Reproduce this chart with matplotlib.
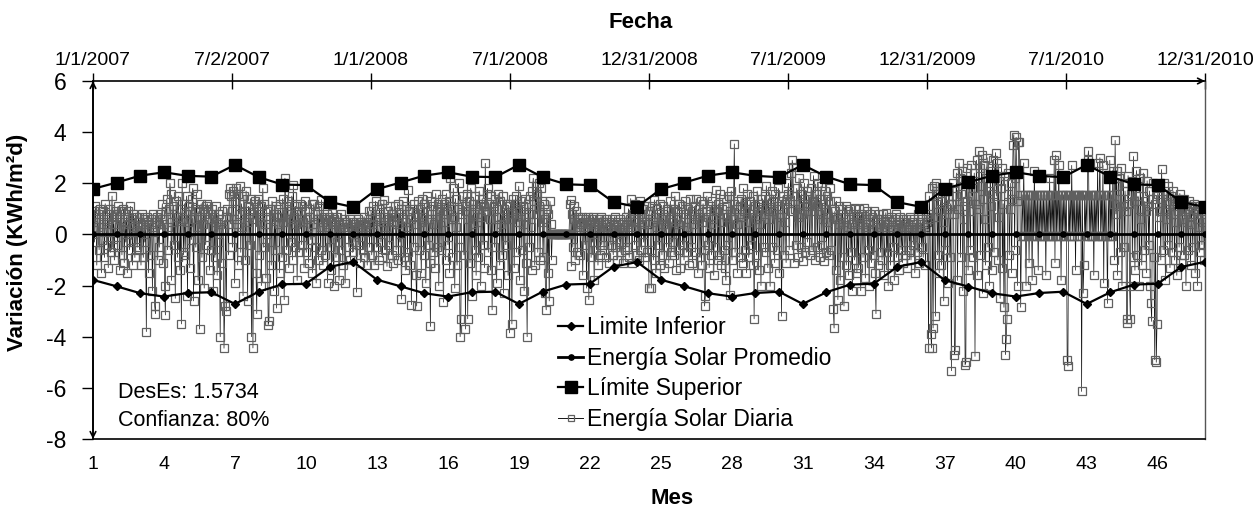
import numpy as np
import matplotlib
matplotlib.use("Agg")
import matplotlib.pyplot as plt
from matplotlib.lines import Line2D

plt.rcParams['font.family'] = ['Liberation Sans', 'DejaVu Sans']
plt.rcParams['axes.unicode_minus'] = False

# ---------------- data ----------------
months = list(range(1, 49))
limite_superior = [1.78, 2.03, 2.30, 2.43, 2.29, 2.26, 2.72, 2.24, 1.95, 1.93, 1.27, 1.07,
                   1.77, 2.03, 2.30, 2.43, 2.26, 2.24, 2.72, 2.24, 1.96, 1.93, 1.26, 1.08,
                   1.77, 2.03, 2.30, 2.43, 2.29, 2.24, 2.72, 2.26, 1.96, 1.93, 1.26, 1.08,
                   1.79, 2.04, 2.30, 2.43, 2.29, 2.24, 2.72, 2.26, 1.96, 1.93, 1.27, 1.07]
limite_inferior = [-1.78, -2.03, -2.30, -2.43, -2.29, -2.26, -2.72, -2.24, -1.95, -1.93, -1.27, -1.07,
                   -1.77, -2.03, -2.30, -2.43, -2.26, -2.24, -2.72, -2.24, -1.96, -1.93, -1.26, -1.08,
                   -1.77, -2.03, -2.30, -2.43, -2.29, -2.24, -2.72, -2.26, -1.96, -1.93, -1.26, -1.08,
                   -1.79, -2.04, -2.30, -2.43, -2.29, -2.24, -2.72, -2.26, -1.96, -1.93, -1.27, -1.07]
promedio = [0.0] * 48

top_tick_days = [0, 182.5, 365, 547.5, 730, 912.5, 1095, 1277.5, 1460]
top_tick_labels = ['1/1/2007', '7/2/2007', '1/1/2008', '7/1/2008', '12/31/2008',
                   '7/1/2009', '12/31/2009', '7/1/2010', '12/31/2010']
month_ticks = [1, 4, 7, 10, 13, 16, 19, 22, 25, 28, 31, 34, 37, 40, 43, 46]
y_ticks = [-8, -6, -4, -2, 0, 2, 4, 6]
year_start_day = [0, 365, 731, 1096]

daily_2007 = [
    0.7, 0.9, -0.3, 1.1, 0.5, -1.2, 0.8, 0.3, -0.6, 1.0, 0.6, -1.5, -0.2, 0.9, 0.4, -0.9, 1.2, 0.2, -0.4, 0.8, -1.3, 0.6, 1.0, -0.7, 0.1, 1.5, -0.5, 0.7, -1.0, 0.4, 0.9,
    0.8, -0.4, 1.1, 0.3, -1.4, 0.6, 0.9, -0.8, 0.2, 1.0, -1.1, 0.5, -0.3, 0.7, -1.5, 0.9, 0.4, -0.6, 1.1, -0.2, 0.6, -1.2, 0.8, 0.3, -0.9, 0.7, 0.1, -0.5,
    0.5, 0.7, -0.6, 0.3, -1.2, 0.8, 0.4, -0.9, 0.6, -0.3, 0.2, -3.8, 0.7, 0.5, -1.5, 0.4, -0.8, 0.6, 0.3, -2.2, 0.8, 0.1, -2.8, -3.1, 0.5, 0.7, -1.0, 0.4, -0.5, 0.8, 0.2,
    0.6, 1.2, -1.1, 0.4, -2.0, -3.15, 0.9, 1.4, -0.6, 0.3, 1.0, 2.0, 1.6, -1.8, 0.5, 1.1, -0.4, 0.8, -2.5, 1.3, 0.7, -0.9, 1.5, 0.2, -1.4, 1.0, -3.5, 2.0, 0.6, -0.8,
    1.2, -0.7, 0.8, 1.5, -2.4, 0.5, 1.1, -1.3, 0.9, -0.2, 1.4, 1.8, -2.6, 0.6, 1.0, -0.5, 1.6, 0.3, -1.8, 0.9, -3.7, 0.7, 1.2, -0.9, 0.4, 1.0, -2.1, 0.8, -0.4, 1.1, 1.2,
    0.9, 0.6, -1.4, 0.8, -0.6, 1.0, 0.3, -2.2, 0.7, -0.9, 0.5, 1.1, -1.6, 0.4, 0.8, -0.3, -4.0, 0.6, -1.1, 0.9, 0.2, -4.45, -2.8, 0.7, -3.0, 1.0, 0.4, -0.8, 1.6, 1.8,
    1.5, 0.9, -0.5, 1.7, 0.6, -1.9, 1.3, 1.8, 0.4, -1.2, 1.6, 0.8, 1.9, -0.7, 1.2, 0.3, -2.4, 1.5, 0.9, -1.0, 1.7, 0.5, -2.6, 1.1, 0.7, -0.4, 1.4, -4.0, 0.8, -4.44, 1.2,
    0.6, 1.3, -1.5, -3.1, 0.9, 1.4, -0.8, 0.5, 1.1, -2.0, 0.7, 1.8, -0.5, 1.2, 0.4, -1.7, 0.9, -0.3, -3.53, -3.4, 1.0, 0.6, -1.2, 1.3, 0.2, -2.2, 0.8, -0.6, 1.1, -2.88, 0.7,
    1.0, 0.4, -1.5, 1.2, 0.7, -0.9, 1.4, 0.5, -2.55, 2.2, 1.1, -0.6, 0.8, 1.3, -1.3, 0.6, 0.9, -0.3, 1.5, -1.0, 1.93, 0.7, -0.5, 1.1, 0.4, -1.8, 0.9, 0.2, -0.7, 1.2,
    0.8, -0.4, 1.1, 0.5, -1.3, 0.9, 1.3, -0.7, 0.6, 0.3, -1.1, 1.0, 0.7, -0.2, 1.2, -1.5, 0.4, 1.2, 0.8, -0.5, -1.9, 0.9, 0.6, -1.0, 1.1, 0.3, -0.6, 1.35, 0.5, -1.2, 0.7,
    0.6, -0.8, 0.4, 0.8, -1.9, 0.3, 0.7, -0.5, 0.5, -1.4, 0.85, 0.2, -2.0, 0.6, 0.4, -0.9, 0.7, -0.3, 0.5, -1.8, 0.3, 0.8, -0.6, 0.4, -1.2, 0.6, 0.2, -1.9, 0.5, 0.3,
    0.4, 0.2, -0.5, 0.6, -1.0, 0.3, 0.5, -0.7, 0.1, 0.4, -0.3, 0.5, -2.26, 0.2, 0.6, -0.4, 0.3, -1.1, 0.5, 0.2, -0.6, 0.4, 0.7, -0.9, 0.3, 0.1, -1.2, 0.5, 0.9, -0.5, 0.6,
]
daily_2008 = [
    0.9, -0.8, 1.1, 0.4, -1.2, 0.7, 1.3, -0.5, 0.6, 0.2, -1.0, 1.0, 0.8, -0.3, 1.2, -0.9, 0.5, 1.35, -0.6, 0.7, 0.3, -1.25, 0.9, 0.6, -0.4, 1.1, 0.2, -0.8, 0.8, -1.1, 0.5,
    0.7, 1.1, -0.6, 0.4, 1.2, -1.0, 0.8, -0.3, 1.0, -2.53, 0.6, 1.3, -0.9, 0.5, -1.4, 1.1, 0.3, -0.7, 1.74, 0.9, -1.2, 0.6, -2.75, 1.0, 0.4, -0.5, 1.2, 0.7, -1.6,
    -2.8, 0.8, 1.3, -0.6, 1.0, 0.5, -1.5, 1.4, 0.7, -0.8, 1.2, 0.3, -1.9, 0.9, 1.5, -0.4, 0.6, -1.1, -3.6, 1.3, 0.8, -0.7, 1.1, 0.4, -1.3, 1.6, 0.9, -0.5, 1.2, -2.0, 0.7,
    1.0, -0.6, 1.4, 0.8, -2.65, 1.2, 0.5, -1.0, 1.6, 0.9, -0.4, 1.3, -1.5, 2.2, 1.1, 0.6, -0.9, 1.8, 0.7, -2.1, 1.4, 0.3, -1.2, 1.0, 2.0, -0.5, -4.0, -3.3, 1.2, 0.8,
    1.5, -0.8, 1.1, -3.7, 0.9, 1.6, -3.3, 0.6, 1.3, -1.1, 1.8, 0.4, -2.4, 1.2, 0.8, -0.6, 1.5, -1.6, 1.0, 0.5, -0.9, 1.7, 1.2, -2.0, 0.7, 1.4, -0.4, 1.1, -1.3, 2.78, 0.9,
    1.6, 1.8, -0.7, 1.2, 0.6, -1.4, 1.5, -2.95, 0.9, 1.1, -0.5, 1.4, 0.3, -1.9, 1.0, 1.6, 0.7, -1.2, 1.3, 0.4, -0.8, 1.5, -2.3, 1.0, 0.6, -0.4, 1.2, 0.8, -1.6, 1.1,
    -3.85, 1.2, 0.6, -3.5, 1.4, 0.8, -1.3, 1.0, 1.5, -0.7, 1.2, 0.5, 1.88, -1.8, 0.9, 1.3, -0.6, 1.1, 0.4, -2.2, 1.4, 0.7, -1.1, -4.0, 1.2, 0.8, -0.5, 1.5, 0.3, -1.4, 1.7,
    2.2, 1.3, -1.2, 1.9, 0.8, 1.6, -0.7, 2.0, 1.1, -1.0, 1.8, 1.3, 0.5, -0.9, 1.2, 0.6, -2.3, -2.95, 1.0, -1.5, 0.8, -2.6, 1.29, 0.4, -1.0, 0.0, 0.0, 0.0, 0.0, 0.0, 0.0,
    0.0, 0.0, 0.0, 0.0, 0.0, 0.0, 0.0, 0.0, 0.0, 0.0, 0.0, 0.0, 0.0, 0.0, 0.0, 0.0, 0.0, 1.2, 1.35, -1.25, 0.8, -0.5, 1.1, 0.6, -1.0, 0.9, 0.3, -0.7, 0.7, 0.5,
    0.6, -0.8, 0.4, 0.7, -1.6, 0.3, 0.5, -0.4, 0.6, -2.1, 0.2, 0.7, -2.55, 0.4, 0.5, -0.9, 0.6, -0.3, 0.7, -1.8, 0.4, 0.2, -0.6, 0.5, -1.2, 0.6, 0.3, -0.8, 0.7, -0.4, 0.5,
    0.5, -0.6, 0.3, 0.6, -0.9, 0.4, 0.2, -1.1, 0.5, 0.3, -0.4, 0.6, 0.1, -0.8, 0.4, 0.7, -0.5, 0.3, -1.0, 0.5, 0.2, -0.3, 0.6, -0.7, 0.4, 0.1, -1.1, 0.5, 0.3, -0.6,
    0.7, -0.5, 0.4, 1.0, -0.9, 0.6, 1.4, 0.3, -1.1, 0.8, 0.5, -0.4, 1.2, 0.2, -0.8, 0.9, 0.6, -1.0, 1.3, 0.4, -0.6, 0.7, 1.0, -0.3, 0.5, -0.9, 1.1, 0.4, -0.7, 0.8, -2.1,
]
daily_2009 = [
    0.9, -0.6, -2.1, 1.1, 0.5, -1.0, 1.35, 0.7, -1.5, 0.3, 1.0, -0.4, 0.8, -1.2, 1.2, 0.6, -0.8, 0.4, 1.1, -1.3, 0.7, 0.2, -0.5, 1.0, 0.9, -1.1, 0.6, 1.3, -0.7, 0.5, -0.3,
    1.0, -0.8, 1.5, 0.6, -1.4, 0.9, 0.4, -0.6, 1.2, -1.3, 0.7, 1.1, -0.4, 0.5, -1.0, 1.3, 0.8, -0.7, 0.3, 1.0, -1.2, 0.6, 1.4, -0.5, 0.9, -1.1, 0.4, 0.8,
    1.1, -0.7, 1.4, 0.6, -1.5, 1.0, 0.8, -0.9, 1.3, -1.2, 0.5, 1.2, -0.6, -2.8, -2.4, 0.9, 1.5, -0.4, 0.7, -1.3, 1.1, 0.4, -0.8, 1.3, 0.6, -1.6, 1.0, -0.5, 1.74, 0.9, -1.0,
    1.2, -0.8, 1.6, 0.5, -1.2, 1.0, 1.4, -0.6, 0.8, -1.3, -1.8, 1.1, 0.7, -0.4, 1.5, -2.35, 0.9, 1.7, -1.0, 0.6, 1.2, 3.54, -0.7, 1.0, 0.4, -1.5, 1.3, 0.8, -0.9, 1.1,
    1.4, 0.7, -1.1, 1.8, 0.9, -0.6, 1.2, -1.5, 1.6, 0.5, -0.9, 1.0, 1.3, -0.4, 0.8, -1.2, 1.5, -3.3, 1.1, 0.6, -0.8, 1.7, 0.9, -1.4, 1.2, 0.4, -2.0, 1.0, 1.4, -0.5, 0.8,
    1.5, -0.7, 1.9, 1.0, -1.3, 1.4, 0.6, -2.03, 1.2, 1.7, -0.5, 0.9, 1.3, -1.1, 1.6, 0.8, -0.6, 1.1, 1.8, -1.5, 0.7, 1.3, -3.2, 1.0, 1.5, -0.8, 1.2, 0.5, -1.1, 1.4,
    1.6, 2.0, -0.6, 1.3, 2.4, 0.9, 2.9, 2.65, -1.1, 1.5, 1.0, -0.4, 1.8, 0.7, -0.9, 2.2, 1.2, -0.5, 1.6, 0.8, -1.05, 1.4, 2.0, -0.7, 1.1, 1.7, -0.3, 0.9, 1.5, -0.8, 1.2,
    1.8, -0.6, 1.3, 2.3, 0.9, -1.0, 1.6, 1.1, -0.5, 2.0, 0.8, -0.9, 1.4, 1.9, -0.4, 1.2, 0.6, -1.05, 1.7, 1.0, -0.7, 1.5, 0.5, -0.8, 1.3, 1.8, -0.6, 1.0, 0.7, -2.9, -3.66,
    0.9, -1.4, 1.3, 0.6, -2.55, 1.1, 0.4, -1.8, 0.8, -0.9, 1.0, 0.5, -2.8, 0.7, 1.1, -1.2, 0.3, 0.9, -1.6, 0.6, 1.0, -0.7, 0.4, -2.2, 0.8, 0.5, -1.0, 1.05, 0.6, -1.5,
    0.7, -1.3, 1.0, 0.4, -2.2, 0.8, 0.5, -0.9, 1.05, 0.3, -1.7, 0.6, 0.9, -0.6, 0.4, -2.0, 0.8, 0.2, -1.1, 0.7, 0.5, -0.8, 0.9, -1.5, -3.1, 0.6, 0.3, -1.2, 0.8, 0.4, -0.7,
    0.6, -1.0, 0.8, 0.3, -1.6, 0.5, 0.85, -0.7, 0.4, -2.0, 0.6, 0.2, -1.2, 0.7, 0.5, -0.5, 0.3, -1.8, 0.6, 0.8, -0.9, 0.4, 0.2, -1.4, 0.7, 0.5, -0.6, 0.3, -1.1, 0.6,
    0.5, -0.8, 0.3, 0.6, -1.3, 0.4, 0.2, -0.6, 0.7, -1.0, 0.3, 0.5, -0.4, 0.6, -1.5, 0.2, 0.4, -0.7, 0.8, 0.3, -1.1, 0.5, 0.1, -0.5, 0.6, -0.9, 0.4, 0.3, -1.2, 0.7, 0.5,
]
daily_2010 = [
    0.8, -4.44, 1.5, 0.6, -3.9, -4.44, 1.8, -3.66, 1.9, 0.7, -3.2, 2.0, 1.2, -0.8, 1.6, -1.5, 0.9, 1.3, -1.2, 1.8, 0.5, -2.6, 1.4, -0.6, 1.7, 1.0, -1.9, 1.5, 0.8, -0.9, 1.2,
    -5.33, 1.2, 2.0, 0.8, -4.7, -4.5, 1.5, 2.4, -1.8, 1.0, 2.8, 2.2, -0.9, 1.6, 2.5, -2.2, 1.1, 0.6, -5.1, -5.0, 2.6, 1.3, -1.4, 2.0, 0.9, -0.6, 2.7, 1.5,
    1.8, -0.9, 2.4, -4.77, 1.2, 2.9, -1.6, 1.0, 3.25, 2.6, -0.8, 1.9, 3.1, -2.3, 1.4, 2.7, 0.6, -1.2, 2.2, 3.0, -0.5, 1.7, -2.0, 2.5, 1.1, -1.4, 2.9, 1.6, -0.7, 2.2, 3.2,
    1.5, 2.8, -1.0, 2.1, 0.7, -2.5, 1.8, 2.6, -1.3, 1.2, -2.85, 2.3, -4.7, -4.1, -3.3, 1.6, 2.4, -0.8, 1.0, 2.0, -1.5, 1.4, 3.5, 3.9, -0.6, 2.2, 3.8, 1.3, -2.0, 3.6,
    3.6, 1.55, -2.85, -0.05, 1.55, -0.05, 2.8, -0.05, 1.55, -2.0, 1.55, -0.05, 1.55, -1.1, 1.55, -0.05, 1.55, -1.8, 1.55, -0.05, 2.5, -0.05, 1.55, -0.05, 1.55, -1.4, 1.55, -0.05, 1.55, -0.05, 1.55,
    -0.05, 1.55, -0.05, 1.55, -1.6, 1.55, -0.05, 1.55, -0.05, 2.2, -0.05, 1.55, -0.05, 1.55, -0.05, 2.9, -1.1, 3.1, -0.05, 1.55, -0.05, 2.7, -0.05, 1.55, -1.8, 1.55, -0.05, 1.55, -0.05, 1.55,
    -0.05, 1.55, -4.9, -5.15, 1.55, -0.05, 1.55, -0.05, 2.7, -0.05, 1.55, -0.05, 1.55, -1.4, 1.55, -0.05, 1.55, -0.05, 1.55, -0.05, 1.55, -6.14, 1.55, -2.3, -1.2, 1.55, -0.05, 1.55, -0.05, 2.9, 3.27,
    -0.05, 1.55, -0.05, 1.55, -0.05, 1.55, -1.6, 1.55, -0.05, 1.55, -0.05, 2.8, -0.05, 1.55, 3.0, -0.05, 1.55, -0.05, 2.7, -1.9, 1.55, -0.05, 1.55, -0.05, -2.7, 1.55, -0.05, 2.9, -0.05, 1.55, -0.05,
    2.5, 1.2, -1.0, 3.68, 0.8, 2.5, -1.6, 1.9, 2.2, -0.7, 1.4, 2.6, -2.0, 1.1, 2.0, -0.5, 1.7, 0.9, -3.3, -3.45, 2.3, 1.2, -2.0, -3.3, 1.6, 2.1, -0.9, 3.05, 1.3, -1.4,
    2.0, 2.5, -0.8, 1.5, 1.0, -2.0, 2.2, 0.6, -1.2, 1.8, 2.4, -0.6, 1.3, 0.9, -1.5, 2.1, 1.1, -0.4, 1.7, -2.0, -2.7, -3.4, 1.4, 2.0, -0.9, -4.9, 1.2, -5.0, -3.5, 1.6, 0.7,
    1.8, 0.9, -1.0, 2.54, 1.4, -0.6, 2.0, 1.0, -1.8, 1.6, 0.6, -0.4, 1.9, 1.2, -1.3, 1.5, 0.8, -0.7, 1.7, 1.1, -1.0, 1.3, 0.5, -1.6, 1.4, 0.9, -0.5, 1.6, 1.0, -0.8,
    1.2, 0.6, -0.8, 1.4, 0.9, -2.0, 1.0, 0.5, -0.6, 1.3, 0.7, -1.2, 1.1, 0.4, -0.5, 1.2, 0.8, -1.5, 0.9, 0.6, -2.0, 1.0, 0.3, -0.7, 1.1, 0.8, -0.4, 0.9, 0.5, -1.0, 0.6,
]

# ---------------- figure ----------------
W, H = 1258, 508
fig = plt.figure(figsize=(W / 100, H / 100), dpi=100)
L, R, T, B = 93, 1205, 81, 439
ax = fig.add_axes([L / W, 1 - B / H, (R - L) / W, (B - T) / H])

axm = ax.twiny()

# daily series on the date axis
for start, vals in zip(year_start_day, [daily_2007, daily_2008, daily_2009, daily_2010]):
    x = start + np.arange(len(vals))
    ax.plot(x, vals, color='#151515', lw=0.5, marker='s', ms=5.8,
            mfc='none', mec='#606060', mew=0.9, zorder=2)
ax.set_xlim(0, 1460)
ax.set_ylim(-8, 6)
ax.set_yticks(y_ticks)
ax.tick_params(axis='y', direction='out', length=8, width=1, labelsize=16.5, pad=11)
ax.set_ylabel('Variación (KWh/m²d)', fontsize=16, fontweight='bold')
ax.yaxis.set_label_coords((28 - L) / (R - L), 0.55)
for s in ['left', 'top', 'bottom']:
    ax.spines[s].set_linewidth(1.2)
    ax.spines[s].set_color('black')
ax.spines['right'].set_linewidth(1.0)
ax.spines['right'].set_color('#555555')

# month axis at the bottom
axm.set_xlim(1, 48)
axm.xaxis.tick_bottom()
axm.xaxis.set_label_position('bottom')
axm.set_xticks(month_ticks)
axm.tick_params(axis='x', length=0, labelsize=14, pad=12)
axm.set_xlabel('Mes', fontsize=16, fontweight='bold', va='center')
axm.xaxis.set_label_coords((672 - L) / (R - L), (B - 498) / (B - T))
for s in axm.spines.values():
    s.set_visible(False)

# date axis at the top
ax.xaxis.tick_top()
ax.xaxis.set_label_position('top')
ax.set_xticks(top_tick_days)
ax.set_xticklabels(top_tick_labels)
ax.tick_params(axis='x', which='both', top=True, bottom=False, labeltop=True, labelbottom=False,
               direction='inout', length=11, width=1, labelsize=14, pad=3)
ax.set_xlabel('Fecha', fontsize=16, fontweight='bold', va='center')
ax.xaxis.set_label_coords((641 - L) / (R - L), (B - 22) / (B - T))

# arrows on the axes
ax.annotate('', xy=(0, 1.0), xytext=(0, 0.0), xycoords='axes fraction',
            arrowprops=dict(arrowstyle='<->', lw=1.2, color='black', mutation_scale=10,
                            shrinkA=0, shrinkB=0))
ax.annotate('', xy=(1.0, 1.0), xytext=(0.5, 1.0), xycoords='axes fraction',
            arrowprops=dict(arrowstyle='->', lw=1.2, color='black', mutation_scale=10,
                            shrinkA=0, shrinkB=0))

l_inf, = axm.plot(months, limite_inferior, color='black', lw=1.6, marker='D', ms=4.2, zorder=4)
l_prom, = axm.plot(months, promedio, color='black', lw=2.0, marker='o', ms=3.8, zorder=4)
l_sup, = axm.plot(months, limite_superior, color='black', lw=1.6, marker='s', ms=8, zorder=4)

h_daily = Line2D([], [], color='#151515', lw=0.7, marker='s', ms=4.5, mfc='none',
                 mec='#606060', mew=0.9)
leg = axm.legend([l_inf, l_prom, l_sup, h_daily],
                 ['Limite Inferior', 'Energía Solar Promedio', 'Límite Superior', 'Energía Solar Diaria'],
                 loc='upper left', bbox_to_anchor=(558 / W, 1 - 316 / H),
                 bbox_transform=fig.transFigure, frameon=False, fontsize=16.5,
                 handlelength=1.1, handletextpad=0.15, labelspacing=0.33,
                 borderaxespad=0, borderpad=0)

fig.text(118 / W, 1 - 393 / H, 'DesEs: 1.5734', fontsize=15.5, va='center', ha='left')
fig.text(118 / W, 1 - 420 / H, 'Confianza: 80%', fontsize=15.5, va='center', ha='left')

fig.savefig('out.png', dpi=100)
